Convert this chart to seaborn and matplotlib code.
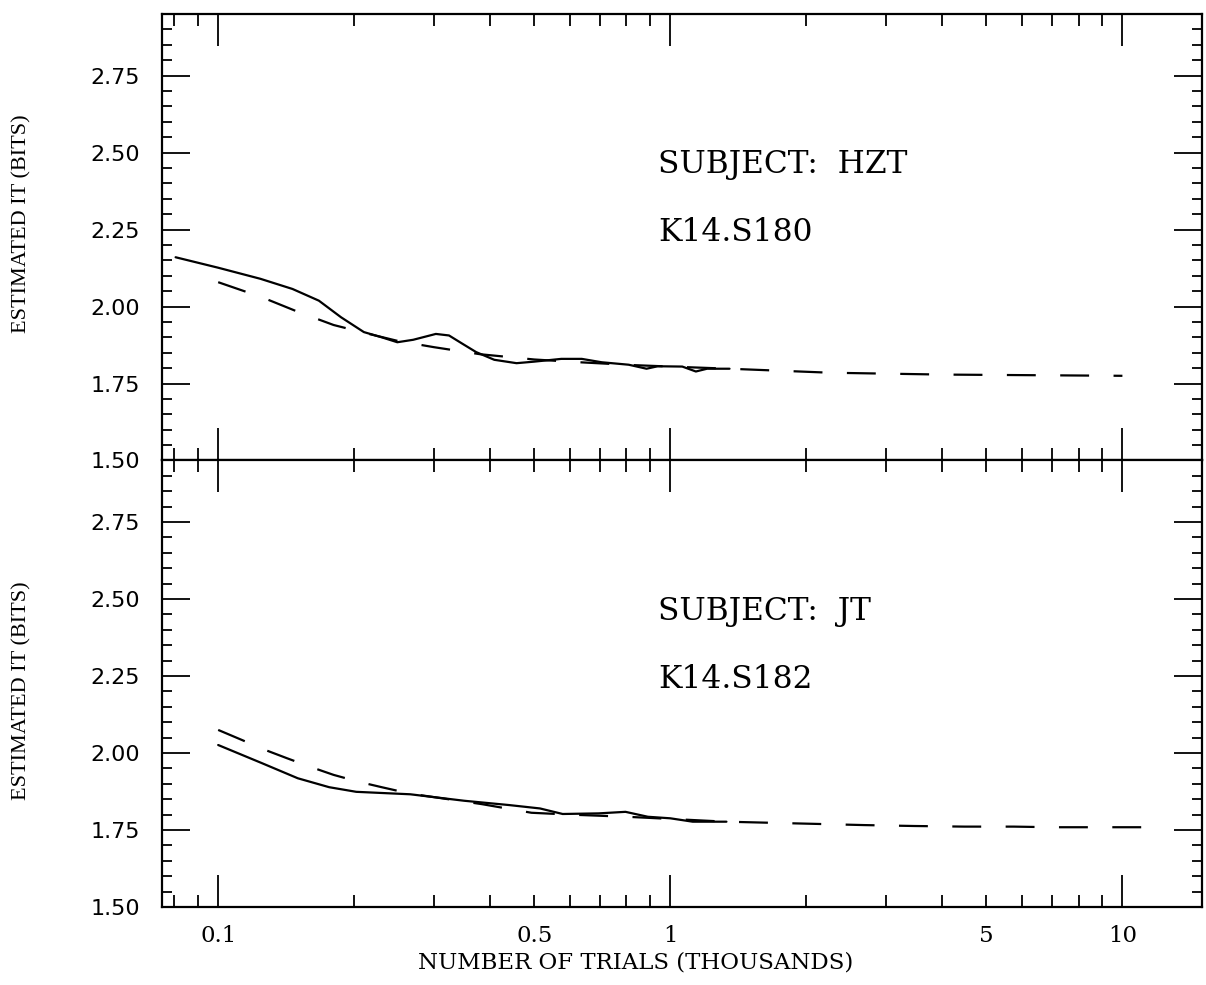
import numpy as np
import pandas as pd
import matplotlib
matplotlib.use("Agg")
import matplotlib.pyplot as plt
import seaborn as sns
from matplotlib.ticker import FixedLocator, LogLocator, FuncFormatter, MultipleLocator

# ---------------- data ----------------
top_solid_x = [0.0805, 0.1, 0.124, 0.146, 0.167, 0.187, 0.21, 0.23, 0.249, 0.27,
               0.303, 0.324, 0.347, 0.372, 0.408, 0.457, 0.5, 0.574, 0.637, 0.705,
               0.809, 0.886, 0.938, 1.063, 1.139, 1.206, 1.352]
top_solid_y = [2.160, 2.126, 2.090, 2.057, 2.019, 1.965, 1.917, 1.900, 1.884, 1.892,
               1.911, 1.906, 1.879, 1.852, 1.827, 1.816, 1.821, 1.830, 1.830, 1.819,
               1.811, 1.798, 1.806, 1.805, 1.789, 1.798, 1.798]
top_dash_x = [0.1, 0.125, 0.15, 0.18, 0.21, 0.25, 0.3, 0.38, 0.5, 0.63, 0.82, 1.0,
              1.35, 2.26, 4.0, 10.0]
top_dash_y = [2.079, 2.03, 1.983, 1.94, 1.915, 1.888, 1.868, 1.845, 1.828, 1.819,
              1.81, 1.805, 1.798, 1.785, 1.779, 1.775]

bot_solid_x = [0.1, 0.125, 0.15, 0.176, 0.202, 0.266, 0.35, 0.44, 0.515, 0.578,
               0.694, 0.796, 0.892, 1.0, 1.121, 1.331]
bot_solid_y = [2.026, 1.967, 1.918, 1.889, 1.874, 1.866, 1.845, 1.831, 1.820, 1.802,
               1.804, 1.809, 1.793, 1.788, 1.777, 1.777]
bot_dash_x = [0.1, 0.113, 0.126, 0.142, 0.16, 0.18, 0.204, 0.23, 0.266, 0.383,
              0.493, 0.6, 0.8, 1.0, 1.33, 2.08, 2.68, 3.46, 4.47, 5.75, 7.0, 8.7, 11.2]
bot_dash_y = [2.075, 2.042, 2.012, 1.983, 1.955, 1.929, 1.907, 1.889, 1.868, 1.834,
              1.806, 1.800, 1.793, 1.786, 1.777, 1.770, 1.766, 1.763, 1.761, 1.761,
              1.759, 1.759, 1.759]

subjects = ["SUBJECT:  HZT", "SUBJECT:  JT"]
sessions = ["K14.S180", "K14.S182"]
x_major = [0.1, 1, 10]
x_labeled_minor = [0.5, 5]
y_label = "ESTIMATED IT (BITS)"
x_label = "NUMBER OF TRIALS (THOUSANDS)"

# ---------------- figure ----------------
sns.set_style("ticks")
plt.rcParams['font.family'] = ['DejaVu Serif']
for k in ['text.color', 'axes.labelcolor', 'xtick.color', 'ytick.color', 'axes.edgecolor']:
    plt.rcParams[k] = 'black'

fig, axes = plt.subplots(2, 1, sharex=True, figsize=(12.06, 9.85), dpi=100)
fig.subplots_adjust(left=0.1343, right=0.9967, top=0.9858, bottom=0.0792, hspace=0)

panels = [(top_solid_x, top_solid_y, top_dash_x, top_dash_y),
          (bot_solid_x, bot_solid_y, bot_dash_x, bot_dash_y)]

for i, (ax, (sx, sy, dx, dy)) in enumerate(zip(axes, panels)):
    ax.set_xscale('log')
    df = pd.concat([
        pd.DataFrame({'x': sx, 'v': sy, 'kind': 'observed'}),
        pd.DataFrame({'x': dx, 'v': dy, 'kind': 'model'}),
    ], ignore_index=True)
    sns.lineplot(data=df, x='x', y='v', style='kind',
                 dashes={'observed': '', 'model': (13, 11)},
                 color='black', linewidth=1.6, estimator=None, sort=True,
                 legend=False, ax=ax)
    ax.set_xlim(0.0751, 15.0)
    ax.set_ylim(1.5, 2.95)

    ax.xaxis.set_major_locator(FixedLocator(x_major))
    ax.xaxis.set_minor_locator(LogLocator(base=10, subs=np.arange(2, 10), numticks=30))
    ax.xaxis.set_major_formatter(FuncFormatter(lambda v, p: f"{v:g}"))
    ax.xaxis.set_minor_formatter(FuncFormatter(
        lambda v, p: f"{v:g}" if any(abs(v - m) / m < 1e-6 for m in x_labeled_minor) else ""))

    ax.yaxis.set_major_locator(MultipleLocator(0.25))
    ax.yaxis.set_minor_locator(MultipleLocator(0.05))
    ax.yaxis.set_major_formatter(FuncFormatter(lambda v, p: f"{v:.2f}"))

    ax.tick_params(axis='x', which='major', direction='in', length=23, width=1.3,
                   top=True, bottom=True, color='black')
    ax.tick_params(axis='x', which='minor', direction='in', length=8.5, width=1.3,
                   top=True, bottom=True, color='black')
    ax.tick_params(axis='x', which='both', labelsize=16.5, pad=13, labelcolor='black',
                   labelfontfamily='DejaVu Serif', labelbottom=(i == 1), labeltop=False)
    ax.tick_params(axis='y', which='major', direction='in', length=20, width=1.3,
                   left=True, right=True, color='black')
    ax.tick_params(axis='y', which='minor', direction='in', length=7, width=1.3,
                   left=True, right=True, color='black')
    ax.tick_params(axis='y', which='both', labelsize=16, pad=16, labelcolor='black',
                   labelfontfamily='DejaVu Sans')

    for s in ax.spines.values():
        s.set_linewidth(1.6)
        s.set_color('black')
        s.set_visible(True)

    ax.set_ylabel(y_label, family='Liberation Serif', fontsize=16, color='black')
    ax.yaxis.set_label_coords(-0.125, 0.53 if i == 0 else 0.485)
    ax.set_xlabel("")

    ax.text(0.94, 2.46, subjects[i], fontsize=22.5, family='DejaVu Serif',
            ha='left', va='center', color='black')
    ax.text(0.94, 2.24, sessions[i], fontsize=22.5, family='DejaVu Serif',
            ha='left', va='center', color='black')

axes[1].set_xlabel(x_label, fontsize=16.5, family='DejaVu Serif', color='black')
axes[1].xaxis.set_label_coords(0.455, -0.1)

fig.savefig("out.png", dpi=100)
